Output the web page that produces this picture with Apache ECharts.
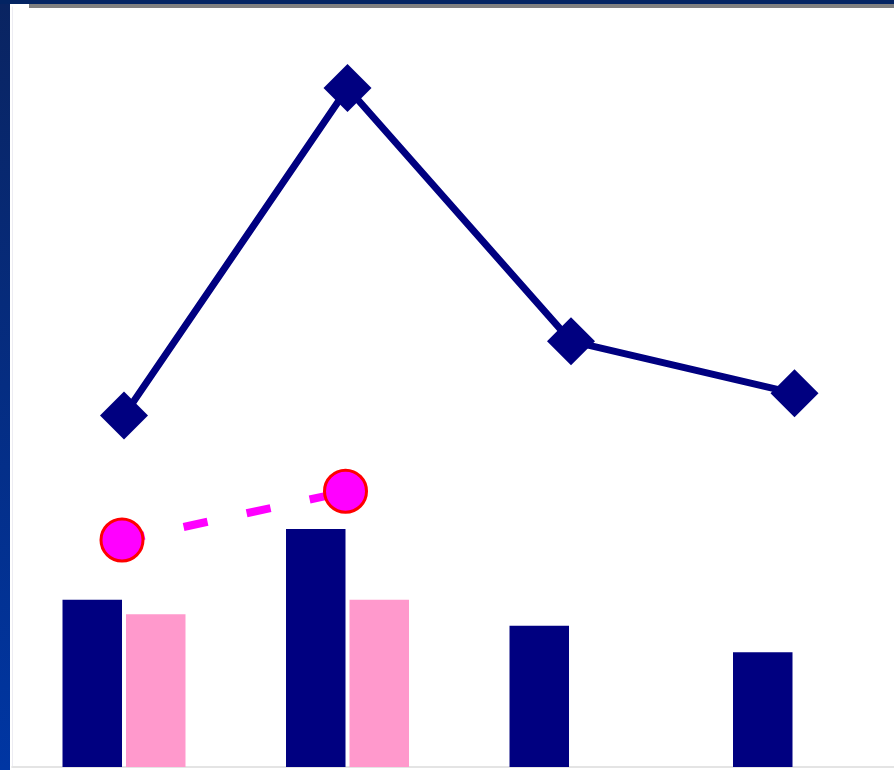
<!DOCTYPE html>
<html>
<head>
<meta charset="utf-8">
<script src="https://cdn.jsdelivr.net/npm/echarts@6/dist/echarts.min.js"></script>
<style>
html,body{margin:0;padding:0;background:#ffffff;overflow:hidden;width:894px;height:770px;}
#chart{width:920px;height:770px;}
</style>
</head>
<body>
<div id="chart"></div>
<script>
var categories = ['A', 'B', 'C', 'D'];
var navyBars = [22.0, 31.3, 18.6, 15.1];
var pinkBars = [20.1, 22.0, null, null];
var navyLine = [46.25, 89.34, 56.03, 49.17];
var magentaLine = [29.87, 36.28, null, null];

var chart = echarts.init(document.getElementById('chart'));
chart.setOption({
  backgroundColor: '#ffffff',
  animation: false,
  graphic: [
    {
      type: 'rect', silent: true, z: 100,
      shape: {x: 0, y: 0, width: 10, height: 770},
      style: {fill: new echarts.graphic.LinearGradient(0, 0, 0, 1, [
        {offset: 0, color: '#0a2461'}, {offset: 1, color: '#0036a3'}
      ])}
    },
    {
      type: 'rect', silent: true, z: 100,
      shape: {x: 0, y: 0, width: 920, height: 4},
      style: {fill: '#032463'}
    },
    {
      type: 'rect', silent: true, z: 100,
      shape: {x: 29, y: 4, width: 891, height: 4},
      style: {fill: '#808080'}
    }
  ],
  grid: {left: 12.25, top: 7, width: 894, bottom: 3},
  xAxis: {
    type: 'category',
    data: categories,
    axisLine: {show: true, lineStyle: {color: '#e4e4e4', width: 2}},
    axisTick: {show: false},
    axisLabel: {show: false},
    splitLine: {show: false}
  },
  yAxis: {
    type: 'value',
    min: 0, max: 100,
    axisLine: {show: true, lineStyle: {color: '#ececf2', width: 1}},
    axisTick: {show: false},
    axisLabel: {show: false},
    splitLine: {show: false}
  },
  series: [
    {
      type: 'bar', data: navyBars, barWidth: 59.5, barGap: '6.7%',
      itemStyle: {color: '#000080'}
    },
    {
      type: 'bar', data: pinkBars, barWidth: 59.5,
      itemStyle: {color: '#ff99cc'}
    },
    {
      type: 'line', data: navyLine, z: 5,
      symbol: 'diamond', symbolSize: 48,
      lineStyle: {color: '#000080', width: 7},
      itemStyle: {color: '#000080'}
    },
    {
      type: 'line', data: magentaLine, z: 6,
      symbol: 'circle', symbolSize: 42, symbolOffset: [-2, 0],
      lineStyle: {color: '#ff00ff', width: 8, type: [24.5, 40], dashOffset: 3.5},
      itemStyle: {color: '#ff00ff', borderColor: '#ff0000', borderWidth: 3}
    }
  ]
});
</script>
</body>
</html>
